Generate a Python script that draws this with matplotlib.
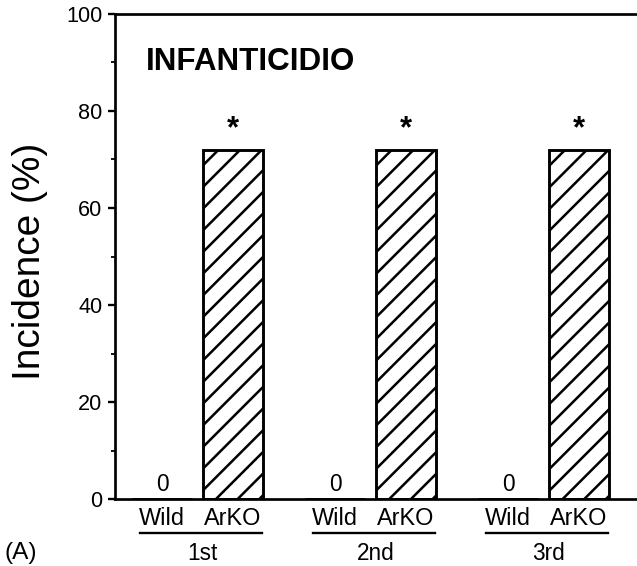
import matplotlib.pyplot as plt
import numpy as np

plt.rcParams['font.family'] = ['Liberation Sans', 'DejaVu Sans']
plt.rcParams['hatch.linewidth'] = 1.4

# data
groups = ["1st", "2nd", "3rd"]
strains = ["Wild", "ArKO"]
wild_vals = [0, 0, 0]
arko_vals = [72, 72, 72]
yticks = [0, 20, 40, 60, 80, 100]

fig = plt.figure(figsize=(637 / 130, 566 / 130), dpi=130)
ax = fig.add_axes([115 / 637, 67 / 566, 1.0 - 115 / 637, 485 / 566])

x = np.arange(len(groups))
off = 0.205
width = 0.347

ax.bar(x - off, wild_vals, width, color="white", edgecolor="black", linewidth=1.6)
ax.bar(x + off, arko_vals, width, color="white", edgecolor="black",
       linewidth=1.6, hatch="//")

for xi, v in zip(x - off, wild_vals):
    ax.text(xi, v + 0.6, str(v), ha="center", va="bottom", fontsize=12.5)
for xi, v in zip(x + off, arko_vals):
    ax.text(xi, v + 4.2, "*", ha="center", va="center", fontsize=17, fontweight="bold")

ax.set_xlim(-0.477, 2.54)
ax.set_ylim(0, 100)
ax.set_yticks(yticks)
ax.set_yticks(np.arange(10, 100, 20), minor=True)
ax.set_xticks([])
ax.tick_params(axis="y", which="major", labelsize=12, length=4, width=1.3, pad=3)
ax.tick_params(axis="y", which="minor", length=2, width=1.0)

for s in ["top", "left", "bottom"]:
    ax.spines[s].set_linewidth(1.5)
ax.spines["right"].set_visible(False)

ax.set_ylabel("Incidence (%)", fontsize=21.5)
ax.yaxis.set_label_coords(-0.128, 0.49)

ax.text(0.06, 0.90, "INFANTICIDIO", transform=ax.transAxes, fontsize=17.4,
        fontweight="bold", ha="left", va="center")

# category and group labels below the axis
trans = ax.get_xaxis_transform()
for g in x:
    ax.text(g - off, -0.04, "Wild", transform=trans, ha="center", va="center",
            fontsize=13, clip_on=False)
    ax.text(g + off, -0.04, "ArKO", transform=trans, ha="center", va="center",
            fontsize=13, clip_on=False)
    ax.plot([g - 0.33, g + 0.37], [-0.07, -0.07], transform=trans, color="black",
            linewidth=1.3, clip_on=False)
    ax.text(g + 0.03, -0.112, groups[g], transform=trans, ha="center", va="center",
            fontsize=12.5, clip_on=False)

fig.text(5 / 637, 1 - 553 / 566, "(A)", ha="left", va="center", fontsize=13.5)

fig.savefig("out.png", dpi=130)
